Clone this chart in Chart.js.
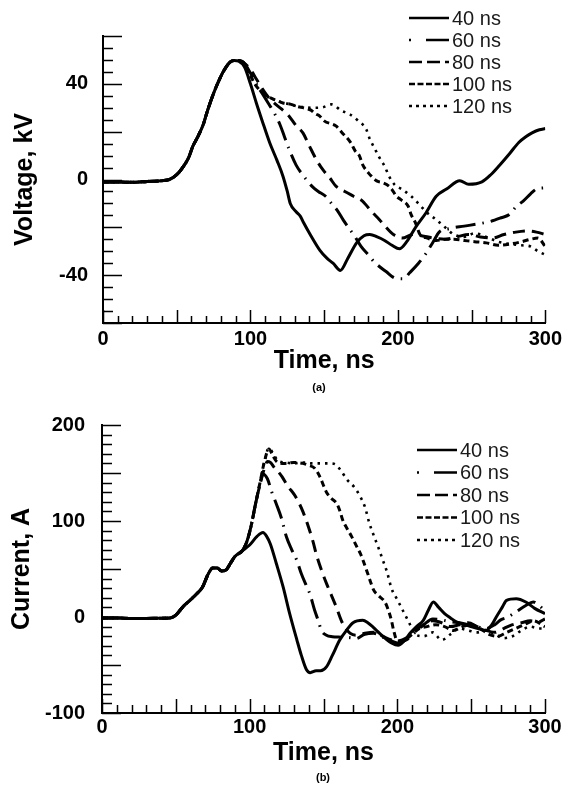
<!DOCTYPE html>
<html>
<head>
<meta charset="utf-8">
<script src="https://cdn.jsdelivr.net/npm/chart.js@4.4.1/dist/chart.umd.min.js"></script>
<style>
  body { margin: 0; background: #fff; width: 566px; height: 786px; position: relative; overflow: hidden; }
  canvas { position: absolute; left: 0; }
  #voltChart { top: 0; }
  #currChart { top: 395px; }
  .tag { position: absolute; width: 40px; text-align: center; font: bold 11px "Liberation Sans", Arial, sans-serif; color: #000; }
</style>
</head>
<body>
<canvas id="voltChart" width="566" height="395"></canvas>
<canvas id="currChart" width="566" height="391"></canvas>
<div class="tag" style="left:299px;top:381px">(a)</div>
<div class="tag" style="left:303px;top:771px">(b)</div>
<script>
const pulseNames = ["40 ns", "60 ns", "80 ns", "100 ns", "120 ns"];

// (a) voltage, kV - common rising front
const voltRiseT = [0, 10, 20, 30, 40, 45, 50, 54, 58, 61, 64, 68, 71, 75, 78, 81.5, 86, 89];
const voltRiseV = [-1, -1, -1.2, -0.8, -0.5, 0, 2, 5, 9, 14, 17.5, 23, 29, 36, 40.5, 45, 49, 49.8];

const volt40T = [92, 96, 100, 104, 108, 113, 118, 122, 125, 127, 131, 134, 136, 141, 147, 152, 156, 161, 166, 172, 177, 181, 186, 191, 196, 201, 206, 212, 219, 226, 233, 242, 248, 257, 263, 269, 276, 282, 287, 291, 296, 300];
const volt40V = [49.5, 47, 40, 32, 24.5, 15.5, 8, 1.5, -5, -10, -13.5, -15.5, -18, -23.5, -29.5, -33, -35, -38, -33, -26.5, -23.5, -23, -24, -25.5, -27.5, -29, -26, -20, -14, -7, -4, -0.5, -2, -1, 2, 6, 11, 15.5, 18, 19.5, 20.8, 21.3];

const volt60T = [92, 96, 100, 104, 108, 112, 116, 120, 123, 126, 131, 136, 142, 146, 151, 155, 159, 163, 167, 171, 175, 180, 184, 192, 199, 204, 208, 214, 219, 224, 228, 235, 245, 255, 263, 270, 276, 280, 285, 290, 294, 300];
const volt60V = [49.8, 48.5, 44.5, 40, 36, 32, 28, 23, 18, 13, 6, 1.5, -3, -5, -7, -10, -13, -17, -20.5, -24, -28, -31.5, -34.5, -38.5, -41.4, -41.5, -39, -35, -31, -26, -22, -20.5, -19.5, -18.5, -17.5, -16, -14.5, -11.5, -9, -6, -4, -3.5];

const volt80T = [92, 96, 100, 104, 108, 112, 116, 121, 125.5, 131, 135.6, 140, 145, 149, 154, 158, 164, 170, 176, 182, 187.5, 192, 197, 203, 210, 216, 224, 232, 240, 248, 256, 264, 272, 280, 288, 294, 300];
const volt80V = [49.8, 48.5, 46, 42, 38, 34.5, 32, 29.5, 27, 22.5, 19.5, 14, 8, 4.2, 0.5, -2.8, -5, -7, -9, -13.3, -16.8, -20, -23, -24.5, -23, -23.5, -24.5, -25, -24, -23, -24, -24.5, -23, -22, -21.5, -22, -23];

const volt100T = [92, 96, 99, 102, 106, 110, 114, 118, 122, 127, 132, 137, 141, 144, 147, 150, 158, 162, 168, 171, 174, 176, 180, 182, 186, 190, 194, 196, 199, 202, 207, 209, 212, 215, 220, 226, 232, 238, 245, 252, 260, 268, 276, 284, 290, 295, 300];
const volt100V = [49.8, 48.5, 45, 41, 37.5, 35.5, 34, 33, 32, 31.5, 30.5, 29.8, 29, 27.5, 26.5, 24.5, 22.4, 19.7, 15.4, 12, 9.8, 6.3, 2.8, 1.4, -0.7, -1.4, -2.8, -4.2, -7, -8.4, -11.2, -14.7, -18.2, -23, -24.5, -25.5, -25, -25, -25.5, -26, -26.5, -27.5, -27, -26, -25, -24.5, -28];

const volt120T = [92, 96, 99, 102, 106, 110, 114, 118, 122, 127, 132, 137, 141, 144, 149, 155, 161.6, 167, 173, 178.5, 181, 184, 187.5, 191, 194, 197.7, 203, 209, 214.6, 220, 226, 232, 238, 245, 252, 260, 268, 276, 284, 290, 295, 300];
const volt120V = [49.8, 48.5, 45, 41, 37.5, 35.5, 34, 33, 32, 31.5, 30.5, 30.2, 30, 30, 30.2, 31.4, 28.8, 27.4, 24.6, 21, 16.8, 13.3, 9.1, 5.6, 1.4, -2.1, -4.2, -7, -10.5, -14, -16.8, -20, -23, -24, -22.5, -24, -26, -27, -27.5, -28, -30, -31.5];

// (b) current, A - common rising front
const currRiseT = [0, 10, 20, 30, 40, 46, 50, 55, 60, 64, 68, 72, 75, 78, 81, 84, 87, 90, 95];
const currRiseI = [-1, -1, -1.5, -1.5, -1.2, -1, 2, 11, 18, 24, 31, 45, 51, 51, 48, 49, 56, 63, 69];

const curr40T = [100, 105, 109, 111.5, 114, 118, 122.7, 127, 132, 135, 138.5, 141, 145, 148, 152, 156, 161, 166, 170, 176.6, 180, 183.4, 188, 192, 196, 200.6, 204.6, 208.6, 213, 217.6, 221, 224.4, 228, 232, 236, 240, 246, 251, 256, 260, 264, 267, 271, 274, 280.5, 287, 293, 300];
const curr40I = [75, 84, 88, 84, 76, 56, 31, 4, -24, -40, -55, -58, -56, -56, -52, -40, -24, -13, -6, -3.5, -6, -10.4, -17, -22.5, -27, -29.5, -25, -17, -10, -3.5, 7, 15.6, 10, 3.5, -1, -5, -8, -10.4, -12.5, -14, -8, 0, 10, 17.4, 19, 15.6, 9, 3.5];

const curr60T = [98, 101, 104, 107, 109, 112, 115, 118, 121.6, 125, 128.5, 131.9, 135, 138, 140.8, 144, 146.5, 148.6, 152, 156, 162, 168, 172, 178, 184, 190, 196, 200, 206, 212, 218, 224, 230, 236, 242, 248, 254, 260, 266, 270, 275, 280, 287, 292, 296, 300];
const curr60I = [78, 95, 118, 138, 149, 144, 130, 118, 102.5, 83, 70, 59, 45, 34, 24, 7, -4, -14, -19, -20.5, -21, -21.5, -22.5, -18, -17, -21, -25, -27, -24, -16, -8, -2, -3, -5, -6, -8, -10, -12, -8, -3, 0, 5, 12, 15.6, 12, 6];

const curr80T = [98, 101, 104, 107, 110, 112, 114, 117, 119, 122, 126, 130, 132, 136, 140, 143, 145, 148.6, 152, 155, 158.5, 162, 165, 168, 172, 178, 184, 190, 196, 200, 206, 212, 218, 224, 230, 236, 242, 248, 254, 260, 266, 272, 278, 284, 290, 296, 300];
const curr80I = [78, 95, 118, 138, 155, 162, 161, 155, 152, 146, 136, 128, 123, 110, 93, 78, 66, 49, 35, 24, 11, -3.5, -12, -17, -19, -17, -16, -20, -24, -25, -22, -14, -8, -4, -6, -10, -8, -6, -10, -14, -16, -12, -8, -6, -4, -5, -2];

const curr100T = [98, 101, 104, 107, 110, 113, 116, 119, 124, 130, 136, 140, 144, 147.6, 150, 152, 155, 159, 161, 163, 166, 169, 172.6, 175, 177, 180, 182, 184, 187, 191.6, 193, 196, 197.5, 200, 205, 210, 215, 220, 226, 232, 238, 244, 250, 256, 262, 268, 274, 280, 286, 292, 300];
const curr100I = [78, 95, 118, 140, 162, 175, 167, 161, 160, 161, 160, 158, 155, 146, 137, 130, 124, 118, 111, 101, 92, 84, 73, 66, 58, 45, 36, 28, 22.6, 15.6, 11, -3.5, -14, -25, -24, -18, -12, -10, -8, -10, -14, -10, -8, -12, -18, -20, -16, -12, -8, -4, -10];

const curr120T = [98, 101, 104, 107, 110, 113, 116, 119, 124, 130, 136, 142, 148, 154, 158, 162, 166, 171, 175, 178, 181, 184, 187, 190, 193, 196, 200, 204, 208, 212, 218, 224, 230, 236, 242, 248, 254, 260, 266, 272, 278, 284, 290, 296, 300];
const curr120I = [78, 95, 118, 140, 162, 176, 170, 163, 161, 160, 161, 160, 160, 160, 159, 152, 143, 135, 125, 115, 98, 85, 73, 60, 47, 30, 18, 6, -6, -18, -20, -16, -24, -18, -12, -14, -16, -14, -18, -22, -20, -14, -10, -12, -12];

// tick labels
const timeTicks = [0, 100, 200, 300];
const voltTicks = [-40, 0, 40];
const currTicks = [-100, 0, 100, 200];

// line style per pulse length (plot, then legend sample)
const dashes = [[], [20, 7, 1.5, 7], [12, 7], [6, 4], [2.5, 5]];
const legendDashes = [[], [2, 15, 23, 40], [13, 5], [6, 2.5], [3, 4]];
const widths = [3, 3, 3, 3, 2.6];

const FONT = '"Liberation Sans", Arial, Helvetica, sans-serif';

function pts(ts, vs) {
  return ts.map((t, i) => ({ x: t, y: vs[i] }));
}

function makeSets(riseT, riseV, series) {
  return series.map((s, i) => ({
    label: pulseNames[i],
    data: pts(riseT.concat(s[0]), riseV.concat(s[1])),
    borderColor: "#000",
    borderWidth: widths[i],
    borderDash: dashes[i],
    pointRadius: 0,
    fill: false,
    cubicInterpolationMode: "monotone",
  }));
}

// minor/major tick marks pointing into the plot
const innerTicks = {
  id: "innerTicks",
  afterDraw(chart, args, o) {
    const { ctx, chartArea: a, scales: { x, y } } = chart;
    ctx.save();
    ctx.strokeStyle = "#000";
    ctx.lineWidth = 1.5;
    ctx.beginPath();
    const nx = Math.round((x.max - x.min) / o.xStep);
    for (let i = 0; i <= nx; i++) {
      const t = x.min + i * o.xStep;
      const px = Math.round(x.getPixelForValue(t)) + 0.5;
      const len = t % o.xMajor === 0 ? o.xLong : o.xShort;
      ctx.moveTo(px, a.bottom);
      ctx.lineTo(px, a.bottom - len);
    }
    const ny = Math.round((y.max - y.min) / o.yStep);
    for (let i = 0; i <= ny; i++) {
      const v = y.min + i * o.yStep;
      const py = Math.round(y.getPixelForValue(v)) + 0.5;
      const len = v % o.yMajor === 0 ? o.yLong : o.yShort;
      ctx.moveTo(a.left, py);
      ctx.lineTo(a.left + len, py);
    }
    ctx.stroke();
    ctx.restore();
  },
};

// legend with line samples, drawn over the plot
const lineLegend = {
  id: "lineLegend",
  afterDraw(chart, args, o) {
    const ctx = chart.ctx;
    ctx.save();
    ctx.font = o.font;
    ctx.fillStyle = "#1a1a1a";
    ctx.textBaseline = "middle";
    chart.data.datasets.forEach((ds, i) => {
      const yy = o.top + i * o.row;
      ctx.strokeStyle = "#000";
      ctx.lineWidth = 2.5;
      ctx.setLineDash(legendDashes[i]);
      ctx.beginPath();
      ctx.moveTo(o.left, yy);
      ctx.lineTo(o.left + o.len, yy);
      ctx.stroke();
      ctx.setLineDash([]);
      ctx.fillText(ds.label, o.left + o.len + 3, yy + 1);
    });
    ctx.restore();
  },
};

function makeChart(id, datasets, cfg) {
  return new Chart(document.getElementById(id), {
    type: "line",
    data: { datasets },
    options: {
      responsive: false,
      animation: false,
      events: [],
      layout: { padding: cfg.pad },
      plugins: {
        legend: { display: false },
        tooltip: { enabled: false },
        innerTicks: cfg.ticks,
        lineLegend: cfg.legend,
      },
      scales: {
        x: {
          type: "linear",
          min: 0,
          max: 300,
          grid: { display: false, drawTicks: false },
          border: { display: true, color: "#000", width: 2 },
          ticks: { color: "#000", padding: cfg.xPad, font: { family: FONT, size: 20, weight: "bold" } },
          afterBuildTicks: (s) => { s.ticks = timeTicks.map((v) => ({ value: v })); },
          afterFit: (s) => { s.height = cfg.xHeight; },
          title: {
            display: true,
            text: "Time, ns",
            color: "#000",
            font: { family: FONT, size: 25, weight: "bold" },
            padding: { top: 0, bottom: cfg.xTitlePad },
          },
        },
        y: {
          min: cfg.yMin,
          max: cfg.yMax,
          grid: { display: false, drawTicks: false },
          border: { display: true, color: "#000", width: 2 },
          ticks: { color: "#000", padding: cfg.yPad, font: { family: FONT, size: 20, weight: "bold" } },
          afterBuildTicks: (s) => { s.ticks = cfg.yTicks.map((v) => ({ value: v })); },
          afterFit: (s) => { s.width = cfg.yWidth; },
          title: {
            display: true,
            text: cfg.yTitle,
            color: "#000",
            font: { family: FONT, size: 25, weight: "bold" },
            padding: { top: cfg.yTitlePad, bottom: 0 },
          },
        },
      },
    },
    plugins: [innerTicks, lineLegend],
  });
}

makeChart("voltChart",
  makeSets(voltRiseT, voltRiseV, [[volt40T, volt40V], [volt60T, volt60V], [volt80T, volt80V], [volt100T, volt100V], [volt120T, volt120V]]),
  {
    pad: { left: 0, right: 20, top: 36, bottom: 0 },
    xHeight: 72, yWidth: 103, xPad: 4, yPad: 15, xTitlePad: 19, yTitlePad: 10,
    yMin: -60, yMax: 60, yTicks: voltTicks, yTitle: "Voltage, kV",
    ticks: { xStep: 10, xMajor: 50, xShort: 7, xLong: 13, yStep: 5, yMajor: 20, yShort: 10, yLong: 19 },
    legend: { left: 409, top: 18, row: 22, len: 40, font: "20px " + FONT },
  });

makeChart("currChart",
  makeSets(currRiseT, currRiseI, [[curr40T, curr40I], [curr60T, curr60I], [curr80T, curr80I], [curr100T, curr100I], [curr120T, curr120I]]),
  {
    pad: { left: 0, right: 21, top: 30, bottom: 0 },
    xHeight: 73, yWidth: 102, xPad: 2, yPad: 17, xTitlePad: 18, yTitlePad: 7,
    yMin: -100, yMax: 200, yTicks: currTicks, yTitle: "Current, A",
    ticks: { xStep: 10, xMajor: 50, xShort: 8, xLong: 14, yStep: 10, yMajor: 50, yShort: 10, yLong: 19 },
    legend: { left: 417, top: 55, row: 22.5, len: 40, font: "20px " + FONT },
  });
</script>
</body>
</html>
